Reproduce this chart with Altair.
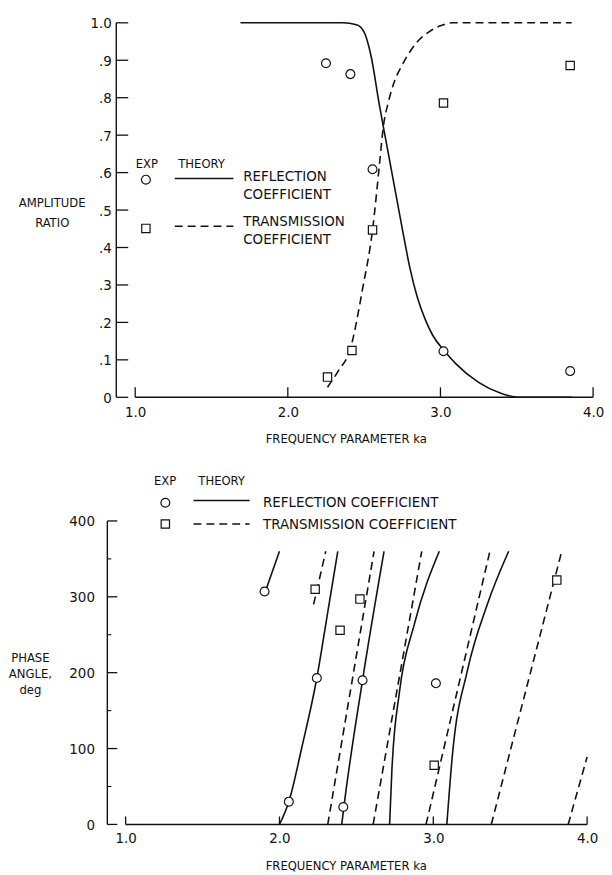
import altair as alt
import pandas as pd

FONT = '"Liberation Sans Narrow", "DejaVu Sans Condensed", "Arial Narrow", "DejaVu Sans", sans-serif'
INK = "#111111"

# ---------------- data: amplitude ratio (top panel) ----------------
refl_ka = [1.69, 2.36, 2.45, 2.50, 2.544, 2.60, 2.65, 2.70, 2.75, 2.80, 2.85, 2.90, 2.95, 3.024, 3.10, 3.25, 3.40, 3.51, 3.86]
refl_amp = [1.0, 1.0, 0.995, 0.975, 0.914, 0.78, 0.67, 0.56, 0.45, 0.345, 0.265, 0.208, 0.165, 0.125, 0.09, 0.04, 0.01, 0.0, 0.0]

trans_ka = [2.26, 2.33, 2.41, 2.49, 2.556, 2.60, 2.625, 2.66, 2.70, 2.75, 2.85, 2.925, 3.0, 3.08, 3.86]
trans_amp = [0.027, 0.07, 0.13, 0.29, 0.45, 0.62, 0.72, 0.79, 0.845, 0.888, 0.95, 0.976, 0.992, 1.0, 1.0]

exp_refl_ka = [2.25, 2.41, 2.555, 3.02, 3.85]
exp_refl_amp = [0.892, 0.863, 0.609, 0.123, 0.07]
exp_trans_ka = [2.26, 2.42, 2.555, 3.02, 3.85]
exp_trans_amp = [0.054, 0.125, 0.447, 0.786, 0.886]

amp_ticks = [0, 0.1, 0.2, 0.3, 0.4, 0.5, 0.6, 0.7, 0.8, 0.9, 1.0]
ka_ticks = [1.0, 2.0, 3.0, 4.0]

# ---------------- data: phase angle (bottom panel) ----------------
phase_curves = [
    ("R0", "solid", [1.905, 2.0], [305, 360]),
    ("R1", "solid", [2.0, 2.061, 2.146, 2.243, 2.31, 2.379], [0, 30, 102, 193, 275, 360]),
    ("T0", "dashed", [2.222, 2.301], [290, 360]),
    ("T1", "dashed", [2.314, 2.615], [0, 360]),
    ("R2", "solid", [2.405, 2.42, 2.54, 2.68], [0, 25, 190, 360]),
    ("T2", "dashed", [2.609, 2.925], [0, 360]),
    ("R3", "solid", [2.716, 2.731, 2.781, 2.877, 3.039], [0, 72, 176, 264, 360]),
    ("T3", "dashed", [2.953, 3.368], [0, 360]),
    ("R4", "solid", [3.088, 3.125, 3.222, 3.351, 3.49], [0, 93, 203, 290, 360]),
    ("T4", "dashed", [3.377, 3.835], [0, 360]),
    ("T5", "dashed", [3.877, 4.0], [0, 89]),
]

exp_refl_ph_ka = [1.903, 2.061, 2.243, 2.415, 2.54, 3.017]
exp_refl_ph = [307, 30, 193, 23, 190, 186]
exp_trans_ph_ka = [2.232, 2.394, 2.523, 3.006, 3.803]
exp_trans_ph = [310, 256, 297, 78, 322]

phase_ticks = [0, 100, 200, 300, 400]
phase_minor = [50, 150, 250, 350]

# ---------------- layout constants ----------------
TOP_AXIS_KA = 0.876
TOP_XDOM = [0.8174, 4.0]
TOP_W, TOP_H = 489, 377
BOT_AXIS_KA = 0.881
BOT_XDOM = [0.881, 4.0]
BOT_YDOM = [0, 470]
BOT_W, BOT_H = 483, 359

label_style = dict(labelFont=FONT, labelFontSize=15, labelColor=INK, labelFlush=False, labelOverlap=False,
                   ticks=False, domain=False, grid=False,
                   titleFont=FONT, titleFontSize=13, titleFontWeight="normal", titleColor=INK)

TOP_XAXIS = alt.Axis(values=ka_ticks, format=".1f", labelPadding=7,
                     title="FREQUENCY PARAMETER ka", titleX=240, titleY=42,
                     titleAlign="center", titleBaseline="middle", **label_style)
TOP_YAXIS = alt.Axis(values=amp_ticks, offset=-9, labelPadding=5,
                     labelExpr="datum.value == 0 ? '0' : datum.value >= 1 ? '1.0' : substring(format(datum.value, '.1f'), 1)",
                     title=["AMPLITUDE", "RATIO"], titleAngle=0, titleX=-65, titleY=181,
                     titleAlign="center", titleBaseline="middle", titleLineHeight=20, **label_style)
BOT_XAXIS = alt.Axis(values=ka_ticks, format=".1f", labelPadding=6,
                     title="FREQUENCY PARAMETER ka", titleX=240, titleY=41,
                     titleAlign="center", titleBaseline="middle", **label_style)
BOT_YAXIS = alt.Axis(values=phase_ticks, labelPadding=13,
                     title=["PHASE", "ANGLE,", "deg"], titleAngle=0, titleX=-78, titleY=191,
                     titleAlign="center", titleBaseline="middle", titleLineHeight=16, **label_style)


def tx(f):
    return alt.X(f"{f}:Q", scale=alt.Scale(domain=TOP_XDOM, nice=False, zero=False), axis=TOP_XAXIS)


def ty(f):
    return alt.Y(f"{f}:Q", scale=alt.Scale(domain=[0, 1], nice=False, zero=False), axis=TOP_YAXIS)


def bx(f):
    return alt.X(f"{f}:Q", scale=alt.Scale(domain=BOT_XDOM, nice=False, zero=False), axis=BOT_XAXIS)


def by(f):
    return alt.Y(f"{f}:Q", scale=alt.Scale(domain=BOT_YDOM, nice=False, zero=False), axis=BOT_YAXIS)


def panel(X, Y, axis_ka, ymax, yticks, tick_len, minor, curves, circles, squares, legend_text, legend_sym, legend_lines, xtick_len):
    layers = []
    # axis lines
    layers.append(alt.Chart(pd.DataFrame({"x": [axis_ka], "y": [0], "y2": [ymax]})).mark_rule(
        color=INK, strokeWidth=1.4).encode(x=X("x"), y=Y("y"), y2="y2:Q"))
    layers.append(alt.Chart(pd.DataFrame({"x": [ka_ticks[0]], "x2": [ka_ticks[-1]], "y": [0]})).mark_rule(
        color=INK, strokeWidth=1.4).encode(x=X("x"), x2="x2:Q", y=Y("y")))
    # inward ticks
    layers.append(alt.Chart(pd.DataFrame({"x": [axis_ka] * len(yticks), "y": yticks})).mark_rule(
        color=INK, strokeWidth=1.3, x2Offset=tick_len).encode(x=X("x"), x2="x:Q", y=Y("y")))
    if minor:
        layers.append(alt.Chart(pd.DataFrame({"x": [axis_ka] * len(minor), "y": minor})).mark_rule(
            color=INK, strokeWidth=1.1, x2Offset=4).encode(x=X("x"), x2="x:Q", y=Y("y")))
    layers.append(alt.Chart(pd.DataFrame({"x": ka_ticks, "y": [0] * len(ka_ticks)})).mark_rule(
        color=INK, strokeWidth=1.3, y2Offset=-xtick_len).encode(x=X("x"), y=Y("y"), y2="y:Q"))
    # curves
    solid = curves[curves["style"] == "solid"]
    dashed = curves[curves["style"] == "dashed"]
    layers.append(alt.Chart(solid).mark_line(color=INK, strokeWidth=1.6, interpolate="monotone").encode(
        x=X("ka"), y=Y("v"), detail="seg:N"))
    layers.append(alt.Chart(dashed).mark_line(color=INK, strokeWidth=1.6, strokeDash=[8, 5], interpolate="monotone").encode(
        x=X("ka"), y=Y("v"), detail="seg:N"))
    # legend lines
    layers.append(alt.Chart(legend_lines[legend_lines["style"] == "solid"]).mark_rule(color=INK, strokeWidth=1.5).encode(
        x=X("x"), x2="x2:Q", y=Y("y")))
    layers.append(alt.Chart(legend_lines[legend_lines["style"] == "dashed"]).mark_rule(color=INK, strokeWidth=1.5, strokeDash=[8, 5]).encode(
        x=X("x"), x2="x2:Q", y=Y("y")))
    # points (data + legend symbols)
    circ = pd.concat([circles, legend_sym[legend_sym["shape"] == "circle"][["ka", "v"]]])
    sq = pd.concat([squares, legend_sym[legend_sym["shape"] == "square"][["ka", "v"]]])
    layers.append(alt.Chart(circ).mark_point(shape="circle", filled=True, fill="white", stroke=INK, strokeWidth=1.2,
                                             size=80, opacity=1).encode(x=X("ka"), y=Y("v")))
    layers.append(alt.Chart(sq).mark_point(shape="square", filled=True, fill="white", stroke=INK, strokeWidth=1.2,
                                           size=70, opacity=1).encode(x=X("ka"), y=Y("v")))
    # legend text
    for al, fs in [("center", 13), ("left", 15)]:
        sub = legend_text[legend_text["align"] == al]
        layers.append(alt.Chart(sub).mark_text(font=FONT, fontSize=fs, color=INK, align=al, baseline="middle").encode(
            x=X("x"), y=Y("y"), text="t:N"))
    return alt.layer(*layers)


# top panel frames
top_curves = pd.concat([
    pd.DataFrame({"ka": refl_ka, "v": refl_amp, "seg": "R", "style": "solid"}),
    pd.DataFrame({"ka": trans_ka, "v": trans_amp, "seg": "T", "style": "dashed"}),
])
top_circles = pd.DataFrame({"ka": exp_refl_ka, "v": exp_refl_amp})
top_squares = pd.DataFrame({"ka": exp_trans_ka, "v": exp_trans_amp})
top_leg_text = pd.DataFrame({
    "t": ["EXP", "THEORY", "REFLECTION", "COEFFICIENT", "TRANSMISSION", "COEFFICIENT"],
    "x": [1.076, 1.435, 1.708, 1.708, 1.708, 1.708],
    "y": [0.623, 0.623, 0.592, 0.544, 0.470, 0.422],
    "align": ["center", "center", "left", "left", "left", "left"],
})
top_leg_sym = pd.DataFrame({"ka": [1.07, 1.07], "v": [0.581, 0.451], "shape": ["circle", "square"]})
top_leg_lines = pd.DataFrame({"x": [1.259, 1.259], "x2": [1.643, 1.643], "y": [0.584, 0.457], "style": ["solid", "dashed"]})

top = panel(tx, ty, TOP_AXIS_KA, 1.0, amp_ticks, 12, None, top_curves, top_circles, top_squares,
            top_leg_text, top_leg_sym, top_leg_lines, 10).properties(width=TOP_W, height=TOP_H)

# bottom panel frames
bot_curves = pd.concat([
    pd.DataFrame({"ka": k, "v": p, "seg": name, "style": st}) for name, st, k, p in phase_curves
])
bot_circles = pd.DataFrame({"ka": exp_refl_ph_ka, "v": exp_refl_ph})
bot_squares = pd.DataFrame({"ka": exp_trans_ph_ka, "v": exp_trans_ph})
bot_leg_text = pd.DataFrame({
    "t": ["EXP", "THEORY", "REFLECTION COEFFICIENT", "TRANSMISSION COEFFICIENT"],
    "x": [1.256, 1.624, 1.893, 1.893],
    "y": [453, 453, 425, 396],
    "align": ["center", "center", "left", "left"],
})
bot_leg_sym = pd.DataFrame({"ka": [1.258, 1.258], "v": [424, 396], "shape": ["circle", "square"]})
bot_leg_lines = pd.DataFrame({"x": [1.441, 1.441], "x2": [1.806, 1.806], "y": [427, 396], "style": ["solid", "dashed"]})

bottom = panel(bx, by, BOT_AXIS_KA, 400, phase_ticks, 10, phase_minor, bot_curves, bot_circles, bot_squares,
               bot_leg_text, bot_leg_sym, bot_leg_lines, 8).properties(width=BOT_W, height=BOT_H)

chart = alt.vconcat(top, bottom, spacing=71, bounds="flush").properties(
    padding={"left": 0, "top": 5, "right": 0, "bottom": 0},
    background="white",
).configure_view(strokeWidth=0)

chart.save("out.html", embed_options={"renderer": "svg", "actions": False})
